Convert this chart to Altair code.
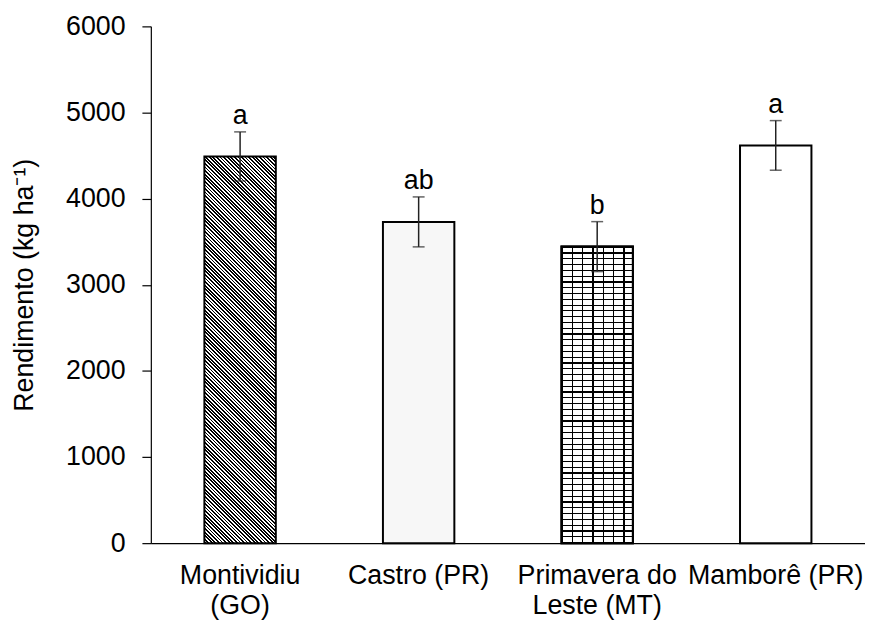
import math
import altair as alt
import pandas as pd

# ---- data ----
locais = ["Montividiu\n(GO)", "Castro (PR)", "Primavera do\nLeste (MT)", "Mamborê (PR)"]
rendimento = [4490, 3730, 3443, 4618]
erro = [285, 290, 290, 288]
letras = ["a", "ab", "b", "a"]
y_ticks = [0, 1000, 2000, 3000, 4000, 5000, 6000]

# ---- layout ----
W, H = 720, 521
YMAX = 6000
PAD_IN, PAD_OUT = 0.6, 0.3
FONT = "Liberation Sans"
FS = 27
BAND = W / (len(locais) - PAD_IN + 2 * PAD_OUT) * (1 - PAD_IN)
LUT = 256  # offsets are snapped to a 1/256 grid so the stripes stay regular

df = pd.DataFrame({
    "local": locais,
    "rendimento": rendimento,
    "lo": [v - e for v, e in zip(rendimento, erro)],
    "hi": [v + e for v, e in zip(rendimento, erro)],
    "letra": letras,
})


def stripe_stops(period_t, line_t, ink, bg):
    """Hard-stop stripes; period_t and line_t in units of 1/LUT."""
    stops = []
    k = 0
    while k < LUT:
        a, b, e = k / LUT, min(k + line_t, LUT) / LUT, min(k + period_t, LUT) / LUT
        stops += [{"offset": a, "color": ink}, {"offset": b, "color": ink},
                  {"offset": b, "color": bg}, {"offset": e, "color": bg}]
        k += period_t
    return stops


def diag_hatch(value):
    """Diagonal '\\' stripes via a linear gradient in bounding-box units."""
    w = BAND
    h = value / YMAX * H
    c = (1 / h + 1 / w) / (1 / h ** 2 + 1 / w ** 2)
    return {"gradient": "linear", "x1": 0, "y1": 1, "x2": c / h, "y2": 1 - c / w,
            "stops": stripe_stops(2, 1, "black", "white")}


def h_lines(period_t, line_t, bg):
    return {"gradient": "linear", "x1": 0, "y1": 0, "x2": 0, "y2": 1,
            "stops": stripe_stops(period_t, line_t, "black", bg)}


def v_lines(period_t, line_t, bg):
    return {"gradient": "linear", "x1": 0, "y1": 0, "x2": 1, "y2": 0,
            "stops": stripe_stops(period_t, line_t, "black", bg)}


x_enc = alt.X(
    "local:N",
    sort=locais,
    scale=alt.Scale(domain=locais, paddingInner=PAD_IN, paddingOuter=PAD_OUT),
    axis=alt.Axis(
        title=None, labelAngle=0, labelExpr="split(datum.label, '\\n')",
        labelFontSize=FS, labelLineHeight=30, labelPadding=20, labelLimit=400,
        ticks=False, tickSize=0, domainColor="black", domainWidth=1.2,
        labelColor="black", labelFont=FONT,
    ),
)
y_scale = alt.Scale(domain=[0, YMAX], nice=False)
y_axis = alt.Axis(
    values=y_ticks, format="d", grid=False, tickSize=9, tickColor="black", tickWidth=1.2,
    domainColor="black", domainWidth=1.2, labelPadding=17, labelFontSize=FS,
    labelColor="black", labelFont=FONT, titleFontSize=FS, titleFont=FONT,
    titleFontWeight="normal", titleColor="black", titlePadding=27,
)
Y_TITLE = "Rendimento (kg ha⁻¹)"

base = alt.Chart(df).encode(x=x_enc)


def bar_layer(name, fill, stroke="black", sw=2):
    return base.transform_filter(alt.FieldEqualPredicate(field="local", equal=name)).mark_bar(
        fill=fill, stroke=stroke, strokeWidth=sw
    ).encode(y=alt.Y("rendimento:Q", scale=y_scale, axis=y_axis, title=Y_TITLE))


layers = [
    bar_layer(locais[0], diag_hatch(rendimento[0])),
    bar_layer(locais[1], "#f7f7f7"),
    bar_layer(locais[2], h_lines(5, 1, "white")),
    bar_layer(locais[2], v_lines(37, 4, "rgba(255,255,255,0)")),
    bar_layer(locais[3], "white"),
]

EB = "#222222"
stem = base.mark_rule(color=EB, strokeWidth=1.5).encode(
    y=alt.Y("lo:Q", scale=y_scale, axis=y_axis, title=Y_TITLE), y2="hi:Q"
)
cap_lo = base.mark_tick(color=EB, thickness=1.5, size=12, orient="horizontal").encode(
    y=alt.Y("lo:Q", scale=y_scale, axis=y_axis, title=Y_TITLE)
)
cap_hi = base.mark_tick(color=EB, thickness=1.5, size=12, orient="horizontal").encode(
    y=alt.Y("hi:Q", scale=y_scale, axis=y_axis, title=Y_TITLE)
)
text = base.mark_text(dy=-8, baseline="alphabetic", fontSize=FS, font=FONT, color="black").encode(
    y=alt.Y("hi:Q", scale=y_scale, axis=y_axis, title=Y_TITLE), text="letra:N"
)

chart = alt.layer(*layers, stem, cap_lo, cap_hi, text).properties(
    width=W, height=H,
    autosize=alt.AutoSizeParams(type="none"),
    padding={"left": 144, "top": 16, "right": 0, "bottom": 82},
).configure_view(stroke=None)

chart.save("out.html", embed_options={"renderer": "svg", "actions": False})
